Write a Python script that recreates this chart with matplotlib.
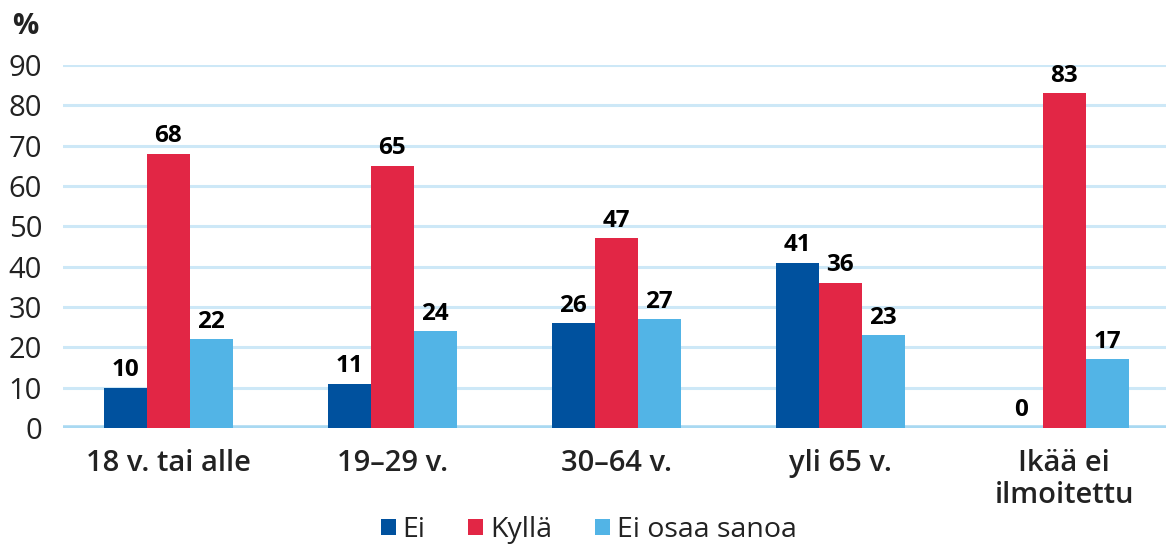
import numpy as np
import matplotlib.pyplot as plt
from matplotlib.patches import Patch

plt.rcParams['font.family'] = ['Open Sans', 'DejaVu Sans']

# Data
categories = ['18 v. tai alle', '19–29 v.', '30–64 v.', 'yli 65 v.', 'Ikää ei\nilmoitettu']
series_names = ['Ei', 'Kyllä', 'Ei osaa sanoa']
ei = [10, 11, 26, 41, 0]
kylla = [68, 65, 47, 36, 83]
ei_osaa = [22, 24, 27, 23, 17]
yticks = [0, 10, 20, 30, 40, 50, 60, 70, 80, 90]

colors = ['#00519e', '#e22645', '#52b4e6']
grid_color = '#cde8f7'
base_color = '#a9d9f2'
text_color = '#222222'

fig = plt.figure(figsize=(11.66, 5.5), dpi=100)
ax = fig.add_axes([63 / 1166, 122 / 550, 1 - 63 / 1166, 363 / 550])

x = np.arange(len(categories))
w = 0.192
for k, (vals, c) in enumerate(zip([ei, kylla, ei_osaa], colors)):
    bars = ax.bar(x + (k - 1) * w, vals, width=w, color=c, zorder=3)
    for b, v in zip(bars, vals):
        ax.annotate(str(v), (b.get_x() + b.get_width() / 2, v),
                    xytext=(0, 4), textcoords='offset points',
                    ha='center', va='bottom', fontsize=17.5,
                    fontweight='bold', color='black', zorder=4)

ax.set_xlim(-0.469, 4.455)
ax.set_ylim(0, 90)
ax.set_yticks(yticks)
ax.set_yticklabels([str(t) for t in yticks], fontsize=21, color=text_color)
ax.set_xticks(x)
ax.set_xticklabels(categories, fontsize=21, fontweight='semibold',
                   color=text_color, linespacing=1.15)
ax.tick_params(axis='both', length=0)
ax.tick_params(axis='y', pad=15)
ax.tick_params(axis='x', pad=15)

for t in yticks[1:]:
    ax.axhline(t, color=grid_color, lw=2.2, zorder=1)
ax.axhline(0, color=base_color, lw=4, zorder=2)

for s in ax.spines.values():
    s.set_visible(False)

fig.text(12 / 1166, 1 - 26 / 550, '%', fontsize=21, fontweight='bold',
         color=text_color, va='center', ha='left')

handles = [Patch(facecolor=c, edgecolor='none') for c in colors]
fig.legend(handles, series_names, loc='center', bbox_to_anchor=(0.505, 1 - 530 / 550),
           ncol=3, frameon=False, fontsize=20.5, handlelength=0.52, handleheight=0.52,
           handletextpad=0.25, columnspacing=1.5, labelcolor=text_color)

fig.savefig('out.png', dpi=100)
